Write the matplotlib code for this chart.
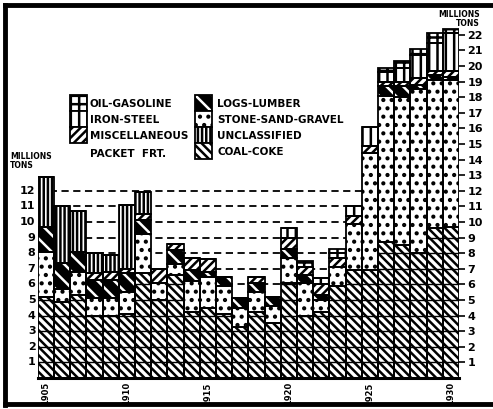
import matplotlib.pyplot as plt
from matplotlib.patches import Rectangle

years = list(range(1905, 1931))
year_ticks = [1905, 1910, 1915, 1920, 1925, 1930]

# millions of tons, bottom to top of each bar
coal = [5.2, 4.9, 5.3, 4.0, 4.0, 4.1, 6.7, 5.0, 6.6, 4.2, 4.5, 4.1, 3.3,
        4.2, 3.5, 6.1, 4.0, 4.2, 5.9, 6.9, 6.9, 8.7, 8.5, 8.0, 9.6, 9.7]
stone = [2.9, 0.8, 1.5, 1.1, 1.1, 1.4, 2.5, 1.1, 0.7, 2.0, 2.0, 1.8, 1.2,
         1.3, 1.1, 1.6, 2.1, 0.8, 1.2, 3.0, 7.5, 9.4, 9.5, 10.5, 9.5, 9.4]
logs = [1.6, 1.7, 1.3, 1.2, 1.2, 1.2, 0.9, 0.0, 0.9, 0.7, 0.3, 0.6, 0.6,
        0.6, 0.6, 0.6, 0.5, 0.3, 0.0, 0.0, 0.0, 0.6, 0.7, 0.3, 0.3, 0.2]
misc = [0.0, 0.0, 0.0, 0.4, 0.5, 0.3, 0.4, 0.9, 0.4, 0.8, 0.8, 0.0, 0.0,
        0.4, 0.0, 0.7, 0.5, 0.7, 0.6, 0.5, 0.5, 0.3, 0.3, 0.4, 0.3, 0.4]
unclassified = [3.2, 3.6, 2.6, 1.3, 1.1, 4.1, 1.4, 0, 0, 0, 0, 0, 0,
                0, 0, 0, 0, 0, 0, 0, 0, 0, 0, 0, 0, 0]
iron = [0, 0, 0, 0, 0, 0, 0, 0, 0, 0, 0, 0, 0,
        0, 0, 0.6, 0, 0.4, 0.3, 0.6, 1.2, 0.6, 0.9, 1.5, 1.8, 2.4]
oil = [0, 0, 0, 0, 0, 0, 0, 0, 0, 0, 0, 0, 0,
       0, 0, 0, 0.4, 0, 0.3, 0, 0, 0.3, 0.4, 0.4, 0.6, 0.3]

dash_levels = [6, 7, 8, 9, 10, 11, 12]
right_ticks = list(range(1, 23))
left_ticks = list(range(1, 13))

plt.rcParams['hatch.linewidth'] = 1.8
plt.rcParams['font.family'] = 'DejaVu Sans'

fig = plt.figure(figsize=(4.93, 4.09), dpi=100)
ax = fig.add_axes([37.9/493, 31/409, (459-37.9)/493, 351/409])

x = list(range(len(years)))

# category: (values, facecolor, hatchcolor, hatch)
layers = [
    (coal, 'white', 'black', '\\' * 4),
    (stone, 'white', 'black', '..'),
    (logs, 'black', 'white', '\\' * 2),
    (misc, 'white', 'black', '/' * 4),
    (unclassified, 'white', 'black', '|' * 4),
    (iron, 'white', 'black', '|' * 2),
    (oil, 'white', 'black', '++'),
]

ax.hlines(dash_levels, -0.5, 25.5, colors='black', linewidth=1.3,
          linestyles=(0, (4, 2.5)), zorder=0.5)

bottom = [0.0] * len(years)
for vals, fc, hc, hatch in layers:
    ax.bar(x, vals, bottom=bottom, width=1.0, facecolor=fc, edgecolor=hc,
           hatch=hatch, linewidth=0, zorder=2)
    ax.bar(x, vals, bottom=bottom, width=1.0, fill=False, edgecolor='black',
           linewidth=1.3, zorder=3)
    bottom = [b + v for b, v in zip(bottom, vals)]

# unit lines across the coal sections
for i, c in enumerate(coal):
    lv = [k for k in range(1, int(c) + 1)]
    ax.hlines(lv, i - 0.5, i + 0.5, colors='black', linewidth=1.0, zorder=3)

ax.set_xlim(-0.5, 25.5)
ax.set_ylim(0, 22.5)
for s in ['top', 'left', 'right']:
    ax.spines[s].set_visible(False)
ax.spines['bottom'].set_linewidth(2.2)

ax.set_xticks([years.index(y) for y in year_ticks])
ax.set_xticklabels([str(y) for y in year_ticks], rotation=90,
                   fontsize=6, fontweight='bold')
ax.tick_params(axis='x', length=0, pad=3)

ax.yaxis.tick_right()
ax.set_yticks(right_ticks)
ax.set_yticklabels([str(t) for t in right_ticks], fontsize=8, fontweight='bold')
ax.tick_params(axis='y', length=4, width=1.2, pad=2)

for t in left_ticks:
    ax.text(-0.65, t, str(t), ha='right', va='center', fontsize=8,
            fontweight='bold')
ax.text(-2.2, 13.9, 'MILLIONS\nTONS', ha='left', va='center', fontsize=5.5,
        fontweight='bold', linespacing=1.0)
ax.text(26.8, 23.0, 'MILLIONS\nTONS', ha='right', va='center', fontsize=5.5,
        fontweight='bold', linespacing=1.0, multialignment='right',
        clip_on=False)

# overlay in pixel coordinates for legend and frame
lax = fig.add_axes([0, 0, 1, 1], zorder=5)
lax.set_xlim(0, 493)
lax.set_ylim(409, 0)
lax.axis('off')
lax.patch.set_alpha(0)

lax.plot([5, 5], [5, 405], color='black', linewidth=3.5)
lax.plot([5, 492], [5, 5], color='black', linewidth=3.5)
lax.plot([5, 492], [404, 404], color='black', linewidth=3.5)

left_items = [('OIL-GASOLINE', layers[6]), ('IRON-STEEL', layers[5]),
              ('MISCELLANEOUS', layers[3])]
right_items = [('LOGS-LUMBER', layers[2]), ('STONE-SAND-GRAVEL', layers[1]),
               ('UNCLASSIFIED', layers[4]), ('COAL-COKE', layers[0])]

def legend_column(items, x0, y0, h, tx):
    for k, (name, (_, fc, hc, hatch)) in enumerate(items):
        y = y0 + k * h
        lax.add_patch(Rectangle((x0, y), 17, h, facecolor=fc, edgecolor=hc,
                                hatch=hatch, linewidth=0))
        lax.add_patch(Rectangle((x0, y), 17, h, fill=False,
                                edgecolor='black', linewidth=1.3))
        lax.text(tx, y + h / 2 + 1, name, ha='left', va='center',
                 fontsize=7.5, fontweight='bold')

legend_column(left_items, 70, 95, 16, 90)
lax.text(90, 154, 'PACKET  FRT.', ha='left', va='center', fontsize=7.5,
         fontweight='bold')
legend_column(right_items, 195, 95, 16, 217)

fig.savefig('out.png', dpi=100)
